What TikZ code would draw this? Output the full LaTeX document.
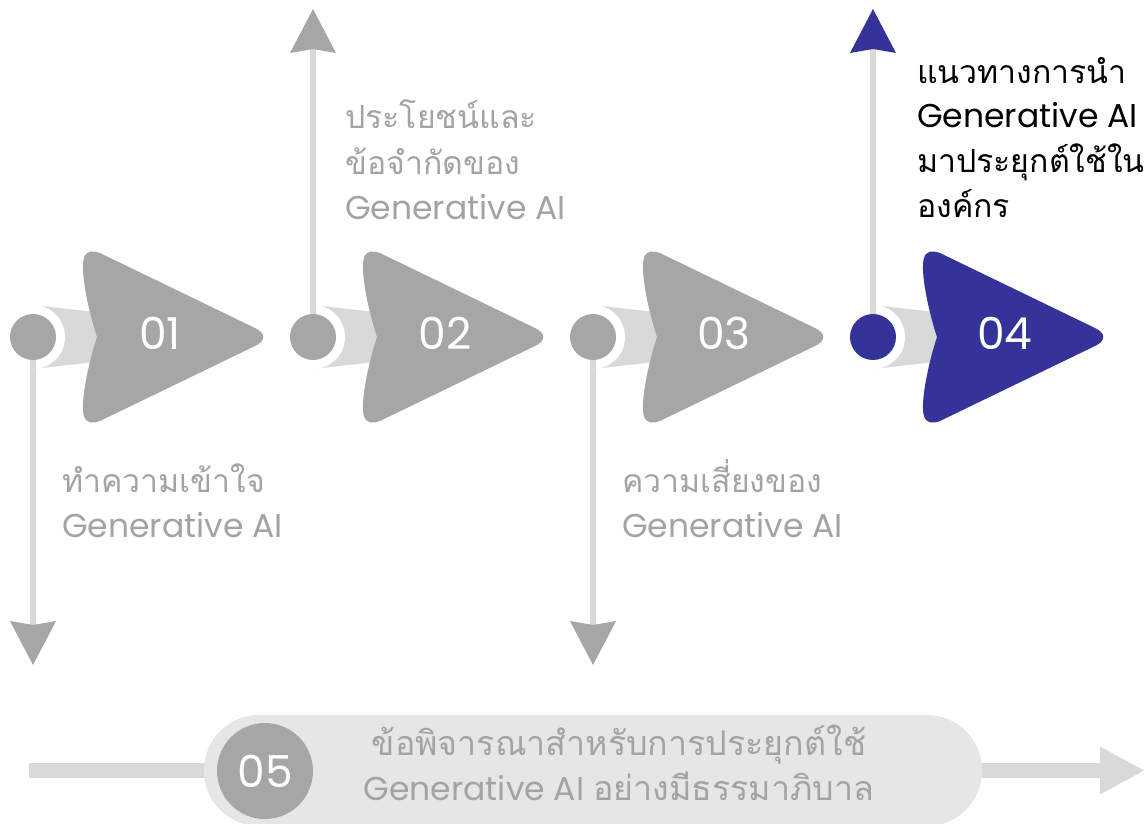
\documentclass[tikz,border=0pt]{standalone}
\usepackage{fontspec}
\setmainfont{Poppins}
\newfontfamily\thaifont[Script=Thai]{Loma}
\newfontfamily\latinfont{Poppins}
\usetikzlibrary{arrows.meta}

\definecolor{stepgray}{HTML}{A6A6A6}
\definecolor{lightline}{HTML}{D9D9D9}
\definecolor{pillgray}{HTML}{E6E6E6}
\definecolor{stepblue}{HTML}{343399}
\definecolor{labelgray}{HTML}{A3A3A3}

\tikzset{
  tailband/.style={fill=lightline},
  ring/.style={circle, fill=white, minimum size=64pt, inner sep=0pt},
  dot/.style={circle, fill=#1, minimum size=46pt, inner sep=0pt},
  vline/.style={draw=lightline, line width=6pt,
    -{Stealth[length=44pt, width=46pt, inset=4pt, line width=0pt, color=#1]}},
  numtext/.style={text=white, font=\latinfont\fontsize{44}{48}\selectfont, inner sep=0pt},
  thailine/.style={anchor=base west, inner sep=0pt, text=#1, font=\thaifont\fontsize{32}{38}\selectfont},
  latinline/.style={anchor=base west, inner sep=0pt, text=#1, font=\latinfont\fontsize{33}{38}\selectfont},
  pics/stepshape/.style={code={
    \fill[#1] (64,0)
      .. controls (55,-27) and (47,-67) .. (51,-79)
      .. controls (53,-86) and (59,-87) .. (67,-84)
      -- (222,-9)
      .. controls (233,-4) and (233,4) .. (222,9)
      -- (67,84)
      .. controls (59,87) and (53,86) .. (51,79)
      .. controls (47,67) and (55,27) .. (64,0) -- cycle;
  }},
}

\begin{document}
\begin{tikzpicture}[x=1pt, y=-1pt]
\useasboundingbox (0,0) rectangle (1144,823);

% centres of the four step dots and the far ends of their arrows
\coordinate (p1) at (33,337);
\coordinate (p2) at (313,337);
\coordinate (p3) at (593,337);
\coordinate (p4) at (873,337);
\coordinate (e1) at (33,665);
\coordinate (e2) at (313,9);
\coordinate (e3) at (593,665);
\coordinate (e4) at (873,9);

% tapering bands from each dot into its arrow shape
\foreach \i in {1,2,3,4}{
  \fill[tailband] ([shift={(0,-32)}]p\i) -- ([shift={(80,-23)}]p\i)
                  -- ([shift={(80,23)}]p\i) -- ([shift={(0,32)}]p\i) -- cycle;
  \node[ring] (r\i) at (p\i) {};
}

% vertical arrows
\draw[vline=stepgray] (p1) -- (e1);
\draw[vline=stepgray] (p2) -- (e2);
\draw[vline=stepgray] (p3) -- (e3);
\draw[vline=stepblue] (p4) -- (e4);

% dots
\node[dot=stepgray] (c1) at (p1) {};
\node[dot=stepgray] (c2) at (p2) {};
\node[dot=stepgray] (c3) at (p3) {};
\node[dot=stepblue] (c4) at (p4) {};

% arrow shapes with their numbers
\pic at (p1) {stepshape=stepgray};
\pic at (p2) {stepshape=stepgray};
\pic at (p3) {stepshape=stepgray};
\pic at (p4) {stepshape=stepblue};
\node[numtext] (n1) at (160,333) {01};
\node[numtext] (n2) at (445,333) {02};
\node[numtext] (n3) at (724,333) {03};
\node[numtext] (n4) at (1005,333) {04};

% step labels
\node[thailine=labelgray]  (t1a) at (62,492) {ทำความเข้าใจ};
\node[latinline=labelgray] (t1b) at (62,537) {Generative AI};

\node[thailine=labelgray]  (t2a) at (345,128) {ประโยชน์และ};
\node[thailine=labelgray]  (t2b) at (345,174) {ข้อจำกัดของ};
\node[latinline=labelgray] (t2c) at (345,219) {Generative AI};

\node[thailine=labelgray]  (t3a) at (622,492) {ความเสี่ยงของ};
\node[latinline=labelgray] (t3b) at (622,537) {Generative AI};

\node[thailine=black]  (t4a) at (917,83) {แนวทางการนำ};
\node[latinline=black] (t4b) at (917,127) {Generative AI};
\node[thailine=black]  (t4c) at (917,172) {มาประยุกต์ใช้ใน};
\node[thailine=black]  (t4d) at (917,217) {องค์กร};

% bottom band with step 05
\coordinate (s0) at (29,770.5);
\coordinate (s1) at (1144,770.5);
\draw[draw=lightline, line width=15pt,
  -{Triangle[length=44pt, width=48pt, line width=0pt]}] (s0) -- (s1);
\node[rectangle, rounded corners=55pt, fill=pillgray, minimum width=778pt,
  minimum height=111pt, inner sep=0pt] (pill) at (593,770.5) {};
\node[circle, fill=stepgray, minimum size=96pt, inner sep=0pt] (c5) at (265,771) {};
\node[numtext] (n5) at (c5) {05};
\node[anchor=base, inner sep=0pt, text=labelgray,
  font=\thaifont\fontsize{34}{40}\selectfont] (t5a) at (619,755) {ข้อพิจารณาสำหรับการประยุกต์ใช้};
\node[anchor=base, inner sep=0pt, text=labelgray,
  font=\fontsize{34}{40}\selectfont] (t5b) at (619,800)
  {{\latinfont\fontsize{33}{40}\selectfont Generative AI} {\thaifont อย่างมีธรรมาภิบาล}};
\end{tikzpicture}
\end{document}
